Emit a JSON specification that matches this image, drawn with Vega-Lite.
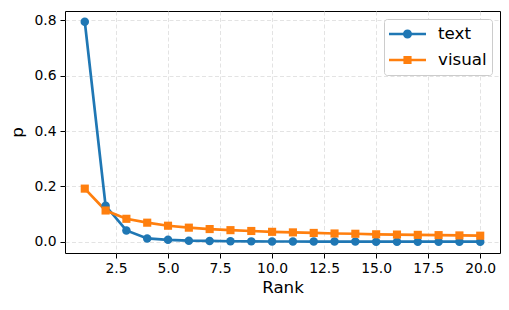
{
  "$schema": "https://vega.github.io/schema/vega-lite/v6.json",
  "width": 435,
  "height": 242,
  "autosize": {"type": "none"},
  "padding": {"left": 65, "top": 11, "right": 9, "bottom": 57},
  "background": "white",
  "config": {
    "font": "DejaVu Sans",
    "view": {"stroke": "black", "strokeWidth": 1},
    "axis": {
      "domain": false,
      "grid": true,
      "gridColor": "#dcdcdc",
      "gridDash": [4, 2.5],
      "gridWidth": 0.8,
      "ticks": true,
      "tickColor": "black",
      "tickSize": 5,
      "tickWidth": 1,
      "labelFont": "DejaVu Sans",
      "labelFontSize": 13.9,
      "labelColor": "black",
      "titleFont": "DejaVu Sans",
      "titleFontSize": 16.7,
      "titleFontWeight": "normal",
      "titleColor": "black"
    },
    "legend": {
      "labelFont": "DejaVu Sans",
      "labelFontSize": 16.7,
      "labelColor": "black"
    }
  },
  "data": {
    "values": [
      {"rank": 1, "series": "text", "p": 0.795},
      {"rank": 2, "series": "text", "p": 0.130},
      {"rank": 3, "series": "text", "p": 0.041},
      {"rank": 4, "series": "text", "p": 0.012},
      {"rank": 5, "series": "text", "p": 0.007},
      {"rank": 6, "series": "text", "p": 0.004},
      {"rank": 7, "series": "text", "p": 0.003},
      {"rank": 8, "series": "text", "p": 0.002},
      {"rank": 9, "series": "text", "p": 0.0015},
      {"rank": 10, "series": "text", "p": 0.001},
      {"rank": 11, "series": "text", "p": 0.001},
      {"rank": 12, "series": "text", "p": 0.0008},
      {"rank": 13, "series": "text", "p": 0.0007},
      {"rank": 14, "series": "text", "p": 0.0006},
      {"rank": 15, "series": "text", "p": 0.0005},
      {"rank": 16, "series": "text", "p": 0.0005},
      {"rank": 17, "series": "text", "p": 0.0004},
      {"rank": 18, "series": "text", "p": 0.0004},
      {"rank": 19, "series": "text", "p": 0.0003},
      {"rank": 20, "series": "text", "p": 0.0003},
      {"rank": 1, "series": "visual", "p": 0.192},
      {"rank": 2, "series": "visual", "p": 0.113},
      {"rank": 3, "series": "visual", "p": 0.083},
      {"rank": 4, "series": "visual", "p": 0.069},
      {"rank": 5, "series": "visual", "p": 0.058},
      {"rank": 6, "series": "visual", "p": 0.051},
      {"rank": 7, "series": "visual", "p": 0.046},
      {"rank": 8, "series": "visual", "p": 0.042},
      {"rank": 9, "series": "visual", "p": 0.039},
      {"rank": 10, "series": "visual", "p": 0.036},
      {"rank": 11, "series": "visual", "p": 0.034},
      {"rank": 12, "series": "visual", "p": 0.032},
      {"rank": 13, "series": "visual", "p": 0.030},
      {"rank": 14, "series": "visual", "p": 0.029},
      {"rank": 15, "series": "visual", "p": 0.027},
      {"rank": 16, "series": "visual", "p": 0.026},
      {"rank": 17, "series": "visual", "p": 0.025},
      {"rank": 18, "series": "visual", "p": 0.024},
      {"rank": 19, "series": "visual", "p": 0.023},
      {"rank": 20, "series": "visual", "p": 0.022}
    ]
  },
  "encoding": {
    "x": {
      "field": "rank",
      "type": "quantitative",
      "title": "Rank",
      "scale": {"domain": [0.05, 20.95], "nice": false, "zero": false},
      "axis": {"values": [2.5, 5, 7.5, 10, 12.5, 15, 17.5, 20], "format": ".1f", "labelPadding": 3, "titlePadding": 5, "labelFlush": false}
    },
    "y": {
      "field": "p",
      "type": "quantitative",
      "title": "p",
      "scale": {"domain": [-0.0405, 0.8335], "nice": false, "zero": false},
      "axis": {"values": [0, 0.2, 0.4, 0.6, 0.8], "format": ".1f", "labelPadding": 4, "titlePadding": 7, "labelFlush": false}
    }
  },
  "layer": [
    {
      "transform": [{"filter": "datum.series === 'text'"}],
      "mark": {"type": "line", "color": "#1f77b4", "strokeWidth": 2.7}
    },
    {
      "transform": [{"filter": "datum.series === 'visual'"}],
      "mark": {"type": "line", "color": "#ff7f0e", "strokeWidth": 2.7}
    },
    {
      "transform": [{"filter": "datum.series === 'text'"}],
      "mark": {"type": "point", "shape": "circle", "filled": true, "size": 72, "color": "#1f77b4", "opacity": 1}
    },
    {
      "transform": [{"filter": "datum.series === 'visual'"}],
      "mark": {"type": "point", "shape": "square", "filled": true, "size": 66, "color": "#ff7f0e", "opacity": 1}
    },
    {
      "mark": {"type": "point", "filled": true, "opacity": 0},
      "encoding": {
        "color": {
          "field": "series",
          "type": "nominal",
          "scale": {"domain": ["text", "visual"], "range": ["#1f77b4", "#ff7f0e"]},
          "legend": {
            "title": null,
            "orient": "top-right",
            "offset": 8,
            "padding": 5,
            "strokeColor": "#cccccc",
            "fillColor": "white",
            "cornerRadius": 3,
            "symbolSize": 1369,
            "symbolOpacity": 1,
            "symbolStrokeWidth": 0,
            "labelOffset": 12,
            "clipHeight": 20,
            "rowPadding": 6
          }
        },
        "shape": {
          "field": "series",
          "type": "nominal",
          "scale": {
            "domain": ["text", "visual"],
            "range": [
              "M-1,-0.07H-0.2V0.07H-1Z M0.2,-0.07H1V0.07H0.2Z M-0.245,0 A0.245,0.245 0 1,1 0.245,0 A0.245,0.245 0 1,1 -0.245,0Z",
              "M-1,-0.07H-0.2V0.07H-1Z M0.2,-0.07H1V0.07H0.2Z M-0.22,-0.22H0.22V0.22H-0.22Z"
            ]
          },
          "legend": {
            "title": null,
            "orient": "top-right",
            "offset": 8,
            "padding": 5,
            "strokeColor": "#cccccc",
            "fillColor": "white",
            "cornerRadius": 3,
            "symbolSize": 1369,
            "symbolOpacity": 1,
            "symbolStrokeWidth": 0,
            "labelOffset": 12,
            "clipHeight": 20,
            "rowPadding": 6
          }
        }
      }
    }
  ]
}
